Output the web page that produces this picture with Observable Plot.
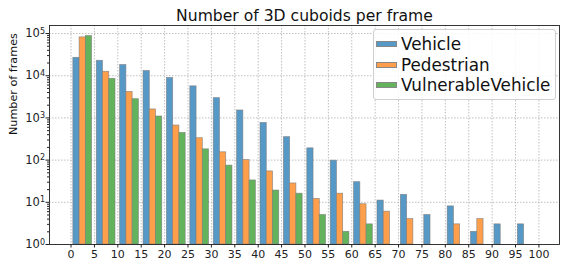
<!DOCTYPE html>
<html><head><meta charset="utf-8">
<script src="https://cdn.jsdelivr.net/npm/d3@7"></script>
<script src="https://cdn.jsdelivr.net/npm/@observablehq/plot@0.6"></script>
<style>
body{margin:0;background:#fff;font-family:"DejaVu Sans",sans-serif;}
#wrap{position:relative;width:568px;height:262px;}
#legend{position:absolute;left:373px;top:29px;width:181px;height:69px;border:1px solid #d0d0d0;border-radius:3px;background:rgba(255,255,255,0.85);font-size:16.8px;color:#111;}
#legend .row{position:absolute;left:2px;display:flex;align-items:center;}
#legend .sw{width:21px;height:6px;margin-right:4px;border:0.5px solid #888;box-sizing:border-box;}
</style></head>
<body><div id="wrap"><div id="legend"></div></div>
<script>
const title = "Number of 3D cuboids per frame";
const yLabel = "Number of frames";
const seriesNames = ["Vehicle", "Pedestrian", "VulnerableVehicle"];
const colors = ["#5698c6", "#ff9f4b", "#62b35c"];
const bins = [0,5,10,15,20,25,30,35,40,45,50,55,60,65,70,75,80,85,90,95];
const vehicle =    [26600,22600,17900,12900,8800,5600,2940,1500,760,350,190,97,30,11,15,5,8,2,3,3];
const pedestrian = [81000,12400,4100,1590,660,330,153,100,54,28,12,16,9,6,4,0,3,4,0,0];
const vulnerable = [87000,8450,2780,1080,440,180,74,33,19,16,5,2,3,0,0,0,0,0,0,0];
const xTicks = d3.range(0, 101, 5);
const yTicks = [1,10,100,1000,10000,100000];

const binWidth = 5, groupFrac = 0.8, nSeries = 3;
const barW = binWidth * groupFrac / nSeries;
const seriesVals = [vehicle, pedestrian, vulnerable];
const rows = [];
seriesVals.forEach((vals, si) => {
  vals.forEach((v, bi) => {
    if (v > 0) {
      const x1 = bins[bi] + binWidth * (1 - groupFrac) / 2 + si * barW;
      rows.push({series: seriesNames[si], x1, x2: x1 + barW, v});
    }
  });
});
const fmtPow = d => "10^" + Math.round(Math.log10(d));
const minor = [];
for (let e = 0; e < 6; e++) for (let k = 2; k <= 9; k++) { const v = k * 10 ** e; if (v < 155000) minor.push(v); }

const chart = Plot.plot({
  width: 568, height: 262,
  marginLeft: 49, marginRight: 9, marginTop: 25, marginBottom: 18,
  style: {fontFamily: "DejaVu Sans, sans-serif", fontSize: "11px", color: "#222", background: "#fff"},
  x: {domain: [-4.6, 104.4], ticks: xTicks, label: null},
  y: {type: "log", domain: [1, 155000], label: null},
  color: {domain: seriesNames, range: colors},
  marks: [
    Plot.gridX(xTicks, {stroke: "#b0b0b0", strokeOpacity: 1, strokeDasharray: "1.5,1.5", strokeWidth: 0.8}),
    Plot.gridY(yTicks, {stroke: "#b0b0b0", strokeOpacity: 1, strokeDasharray: "1.5,1.5", strokeWidth: 0.8}),
    Plot.rectY(rows, {x1: "x1", x2: "x2", y1: 1, y2: "v", fill: "series", stroke: "#7a7a7a", strokeWidth: 0.7, strokeOpacity: 0.8}),
    Plot.axisX(xTicks, {tickSize: 3.5, tickPadding: 2, fontSize: 11, label: null}),
    Plot.axisY(yTicks, {tickSize: 3.5, tickPadding: 1, tickFormat: fmtPow, fontSize: 11.5, label: null}),
    Plot.axisY(minor, {tickSize: 2, tickFormat: () => "", label: null}),
    Plot.frame({stroke: "#222", strokeWidth: 0.9}),
    Plot.text([title], {frameAnchor: "top", dy: -16, fontSize: 15.6, fill: "#111"}),
    Plot.text([yLabel], {frameAnchor: "left", dx: -36, rotate: -90, fontSize: 11.2, fill: "#111"})
  ]
});
// render "10^n" tick labels with a real superscript
chart.querySelectorAll("text").forEach(t => {
  const m = /^10\^(\d+)$/.exec(t.textContent);
  if (m) {
    t.textContent = "10";
    const ts = document.createElementNS("http://www.w3.org/2000/svg", "tspan");
    ts.setAttribute("dy", "-0.45em");
    ts.setAttribute("font-size", "0.7em");
    ts.textContent = m[1];
    t.appendChild(ts);
  }
});
document.getElementById("wrap").prepend(chart);
const leg = document.getElementById("legend");
seriesNames.forEach((n, i) => {
  const r = document.createElement("div");
  r.className = "row";
  r.style.top = (4 + i * 20.7) + "px";
  r.innerHTML = `<span class="sw" style="background:${colors[i]}"></span><span>${n}</span>`;
  leg.appendChild(r);
});
</script></body></html>
